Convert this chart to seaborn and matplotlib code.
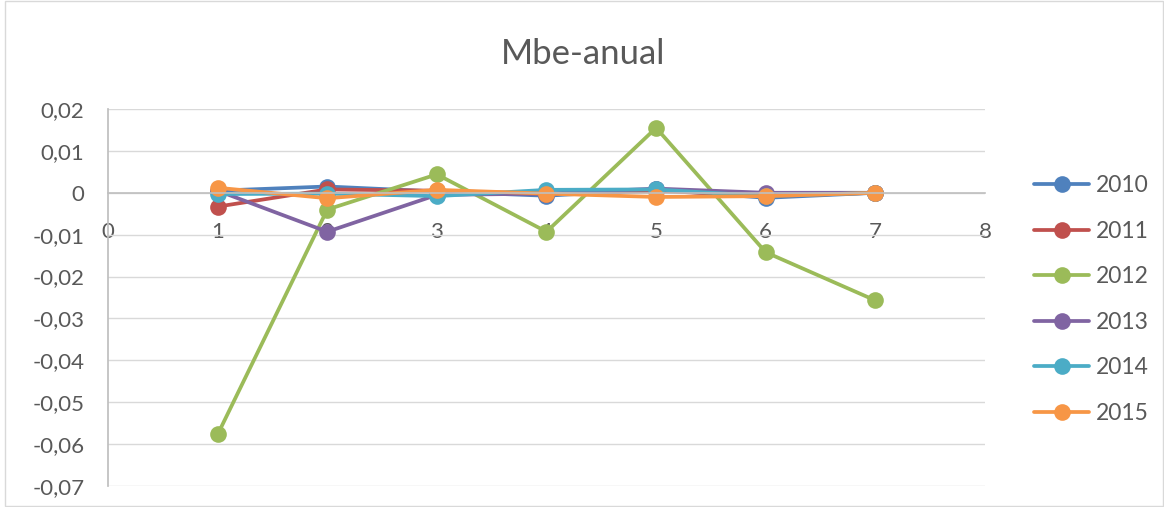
import matplotlib
matplotlib.use("Agg")
import matplotlib.pyplot as plt
from matplotlib.patches import Rectangle
from matplotlib.ticker import FuncFormatter
import seaborn as sns
import pandas as pd

# Mean bias error per month index, one series per year
steps = [1, 2, 3, 4, 5, 6, 7]
mbe_2010 = [0.0005, 0.0015, 0.0003, -0.0007, 0.0008, -0.0012, 0.0]
mbe_2011 = [-0.0033, 0.0008, 0.0005, -0.0003, 0.0005, -0.0008, 0.0]
mbe_2012 = [-0.0577, -0.0040, 0.0044, -0.0093, 0.0155, -0.0142, -0.0257]
mbe_2013 = [0.0005, -0.0093, -0.0005, -0.0002, 0.0010, 0.0000, 0.0]
mbe_2014 = [-0.0003, -0.0002, -0.0008, 0.0007, 0.0008, -0.0008, 0.0]
mbe_2015 = [0.0012, -0.0013, 0.0007, -0.0002, -0.0010, -0.0008, 0.0]

years = ["2010", "2011", "2012", "2013", "2014", "2015"]
series = [mbe_2010, mbe_2011, mbe_2012, mbe_2013, mbe_2014, mbe_2015]
colors = ["#4F81BD", "#C0504D", "#9BBB59", "#8064A2", "#4BACC6", "#F79646"]

df = pd.DataFrame(
    [(y, x, v) for y, vals in zip(years, series) for x, v in zip(steps, vals)],
    columns=["year", "x", "mbe"],
)

sns.set_theme(style="white")
plt.rcParams["font.family"] = ["Lato", "DejaVu Sans"]
text_col = "#595959"

fig = plt.figure(figsize=(11.64, 5.07), dpi=100)
fig.patches.append(Rectangle((0.004, 0.002), 0.995, 0.997, transform=fig.transFigure,
                             fill=False, edgecolor="#d9d9d9", linewidth=1.0))
ax = fig.add_axes([0.0928, 0.0414, 0.7534, 0.7436])

sns.lineplot(data=df, x="x", y="mbe", hue="year", palette=colors,
             marker="o", markersize=12, markeredgewidth=0, linewidth=2.7,
             ax=ax, legend=True, sort=False)

ax.set_xlim(0, 8)
ax.set_ylim(-0.07, 0.02)
ax.set_yticks([0.02 - 0.01 * i for i in range(10)])
ax.yaxis.set_major_formatter(FuncFormatter(
    lambda v, p: "0" if abs(v) < 1e-9 else f"{v:.2f}".replace(".", ",")))
ax.set_xticks(range(0, 9))
ax.grid(axis="y", color="#d9d9d9", linewidth=1.0)
ax.set_axisbelow(True)

for s in ["top", "right"]:
    ax.spines[s].set_visible(False)
ax.spines["left"].set_color("#bfbfbf")
ax.spines["bottom"].set_position(("data", 0))
ax.spines["bottom"].set_color("#bfbfbf")
ax.spines["bottom"].set_linewidth(1.2)

ax.tick_params(axis="both", length=0, labelsize=16, colors=text_col)
ax.tick_params(axis="x", pad=21)
ax.tick_params(axis="y", pad=17)
ax.set_xlabel("")
ax.set_ylabel("")

fig.text(0.501, 0.893, "Mbe-anual", ha="center", va="center",
         fontsize=25, color=text_col)

handles, labels = ax.get_legend_handles_labels()
ax.legend(handles, labels, loc="upper left", bbox_to_anchor=(0.871, 0.695),
          bbox_transform=fig.transFigure, frameon=False, fontsize=16.5,
          labelcolor=text_col, handlelength=2.4, handletextpad=0.3,
          labelspacing=1.07)

fig.savefig("out.png", dpi=100)
